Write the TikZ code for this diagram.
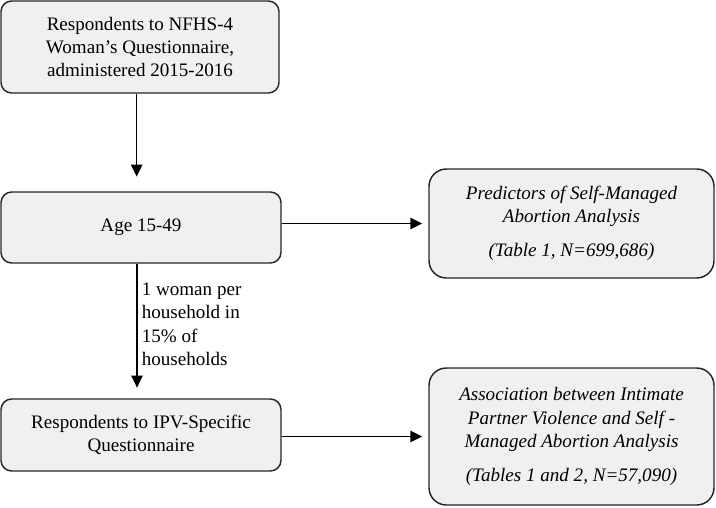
\documentclass[tikz,border=0pt]{standalone}
\usepackage{fontspec}
\setmainfont{Liberation Serif}
\usetikzlibrary{arrows.meta,positioning}
\newcommand{\diafont}{\fontsize{14.3}{17.4}\selectfont}
\tikzset{
  stage/.style={draw=black!85,line width=1.1pt,fill=black!6,rounded corners=8pt,
    align=center,inner sep=2pt,font=\diafont},
  result/.style={stage,rounded corners=13pt,font=\diafont\itshape},
  arw/.style={line width=1.2pt,-{Triangle[length=9pt,width=8.5pt]}},
}

\begin{document}
\begin{tikzpicture}[x=0.75pt,y=-0.75pt,font=\diafont]
  \useasboundingbox (0,0) rectangle (716,507);
  \node[stage,minimum width=208.5pt,minimum height=69pt] (resp) at (140,47)
    {Respondents to NFHS-4\\ Woman’s Questionnaire,\\ administered 2015-2016};
  \node[stage,minimum width=210pt,minimum height=53.25pt] (age) at (141,227.5) {Age 15-49};
  \node[stage,minimum width=210pt,minimum height=54pt] (ipv) at (141,435)
    {Respondents to IPV-Specific\\ Questionnaire};
  \node[result,minimum width=213.75pt,minimum height=81.75pt] (pred) at (571.5,223.5)
    {Predictors of Self-Managed\\ Abortion Analysis\\[8pt] (Table 1, N=699,686)};
  \node[result,minimum width=213.75pt,minimum height=102.75pt] (assoc) at (571.5,436.5)
    {Association between Intimate\\ Partner Violence and Self -\\ Managed Abortion Analysis\\[8pt]
     (Tables 1 and 2, N=57,090)};
  \draw[arw,shorten >=11pt] ([xshift=-2.5pt]resp.south) -- ([xshift=-2.5pt]resp.south |- age.north);
  \draw[arw,shorten >=8pt] ([xshift=-3pt]age.south) -- ([xshift=-3pt]age.south |- ipv.north)
    node[pos=0.45,right,align=left,inner xsep=3pt] (share) {1 woman per\\ household in\\ 15\% of\\ households};
  \draw[arw,shorten >=4.5pt] (age.east |- pred.west) -- (pred.west);
  \draw[arw,shorten >=4.5pt] (ipv.east |- assoc.west) -- (assoc.west);
\end{tikzpicture}
\end{document}
